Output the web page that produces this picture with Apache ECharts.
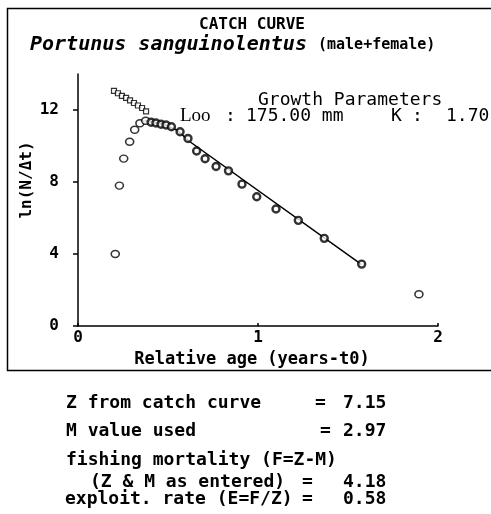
<!DOCTYPE html>
<html>
<head>
<meta charset="utf-8">
<script src="https://cdn.jsdelivr.net/npm/echarts@6/dist/echarts.min.js"></script>
<style>
  html, body { margin: 0; padding: 0; background: #fff; }
  #chart { width: 491px; height: 514px; }
</style>
</head>
<body>
<div id="chart"></div>
<script>
(function() {
    var myChart = echarts.init(document.getElementById('chart'));

    // points left of the peak (not used in the fit)
    var leftPoints = [[0.207, 4.0], [0.23, 7.8], [0.254, 9.3], [0.287, 10.24],
        [0.315, 10.9], [0.344, 11.26], [0.376, 11.4]];
    // expected values for the left points (squares)
    var expectedPoints = [[0.2, 13.06], [0.222, 12.93], [0.244, 12.79], [0.267, 12.67],
        [0.289, 12.54], [0.311, 12.39], [0.333, 12.25], [0.356, 12.11], [0.378, 11.92]];
    // points used in the regression
    var usedPoints = [[0.406, 11.32], [0.433, 11.28], [0.461, 11.21], [0.489, 11.17],
        [0.519, 11.07], [0.567, 10.79], [0.611, 10.42], [0.659, 9.72], [0.706, 9.29],
        [0.767, 8.86], [0.836, 8.62], [0.911, 7.88], [0.993, 7.18], [1.1, 6.5],
        [1.224, 5.87], [1.368, 4.87], [1.576, 3.44]];
    // point right of the fitted range
    var rightPoints = [[1.894, 1.76]];
    // fitted curve as drawn
    var fitLine = [[0.37, 11.42], [0.47, 11.22], [0.55, 10.88], [0.62, 10.25], [1.576, 3.41]];

    var xTicks = [0, 1, 2];
    var yTicks = [0, 4, 8, 12];

    var mono = 'DejaVu Sans Mono';
    var black = '#000';

    // results block
    var results = [
        { label: 'Z from catch curve', lx: 66, eq: 315, value: '7.15', y: 403 },
        { label: 'M value used', lx: 66, eq: 320, value: '2.97', y: 431 },
        { label: 'fishing mortality (F=Z-M)', lx: 66, eq: null, value: '', y: 460 },
        { label: '(Z & M as entered)', lx: 90, eq: 302, value: '4.18', y: 482 },
        { label: 'exploit. rate (E=F/Z)', lx: 65, eq: 302, value: '0.58', y: 499 }
    ];

    var graphics = [{
        type: 'rect',
        shape: { x: 7.5, y: 8.5, width: 520, height: 362 },
        style: { fill: null, stroke: black, lineWidth: 1.5 },
        silent: true
    }, {
        type: 'text', x: 252, y: 25,
        style: { text: 'CATCH CURVE', font: 'bold 16px ' + mono, fill: black, align: 'center', verticalAlign: 'middle' }
    }, {
        type: 'text', x: 30, y: 45,
        style: { text: 'Portunus sanguinolentus', font: 'italic bold 20px ' + mono, fill: black, align: 'left', verticalAlign: 'middle' }
    }, {
        type: 'text', x: 318, y: 45,
        style: { text: '(male+female)', font: 'bold 15px ' + mono, fill: black, align: 'left', verticalAlign: 'middle' }
    }, {
        type: 'text', x: 258, y: 100,
        style: { text: 'Growth Parameters', font: '18px ' + mono, fill: black, align: 'left', verticalAlign: 'middle' }
    }, {
        type: 'text', x: 180, y: 116,
        style: { text: 'Loo', font: '19px "Liberation Serif"', fill: black, align: 'left', verticalAlign: 'middle' }
    }, {
        type: 'text', x: 225, y: 116,
        style: { text: ':', font: '18px ' + mono, fill: black, align: 'left', verticalAlign: 'middle' }
    }, {
        type: 'text', x: 246, y: 116,
        style: { text: '175.00 mm', font: '18px ' + mono, fill: black, align: 'left', verticalAlign: 'middle' }
    }, {
        type: 'text', x: 391, y: 116,
        style: { text: 'K', font: '18px ' + mono, fill: black, align: 'left', verticalAlign: 'middle' }
    }, {
        type: 'text', x: 412, y: 116,
        style: { text: ':', font: '18px ' + mono, fill: black, align: 'left', verticalAlign: 'middle' }
    }, {
        type: 'text', x: 446, y: 116,
        style: { text: '1.70', font: '18px ' + mono, fill: black, align: 'left', verticalAlign: 'middle' }
    }];

    results.forEach(function(r) {
        graphics.push({
            type: 'text', x: r.lx, y: r.y,
            style: { text: r.label, font: 'bold 18px ' + mono, fill: black, verticalAlign: 'middle' }
        });
        if (r.eq !== null) {
            graphics.push({
                type: 'text', x: r.eq, y: r.y,
                style: { text: '=', font: 'bold 18px ' + mono, fill: black, verticalAlign: 'middle' }
            });
            graphics.push({
                type: 'text', x: 343, y: r.y,
                style: { text: r.value, font: 'bold 18px ' + mono, fill: black, verticalAlign: 'middle' }
            });
        }
    });

    var option = {
        backgroundColor: '#fff',
        animation: false,
        textStyle: { fontFamily: mono, color: black },
        grid: { left: 78, right: 53, top: 74, bottom: 188 },
        xAxis: {
            type: 'value',
            min: xTicks[0], max: xTicks[xTicks.length - 1], interval: 1,
            name: 'Relative age (years-t0)',
            nameLocation: 'middle',
            nameGap: 25,
            nameTextStyle: { fontFamily: mono, fontWeight: 'bold', fontSize: 17, color: black, padding: [0, 12, 0, 0] },
            axisLine: { lineStyle: { color: black, width: 1.5 } },
            axisTick: { inside: true, length: 3, lineStyle: { color: black, width: 1.5 } },
            axisLabel: { color: black, fontFamily: mono, fontWeight: 'bold', fontSize: 16, margin: 4 },
            splitLine: { show: false }
        },
        yAxis: {
            type: 'value',
            min: yTicks[0], max: 14, interval: 4,
            offset: 7,
            name: 'ln(N/Δt)',
            nameLocation: 'middle',
            nameGap: 36,
            nameRotate: 90,
            nameMoveOverlap: false,
            nameTextStyle: { fontFamily: mono, fontWeight: 'bold', fontSize: 16, color: black, padding: [0, 0, 0, 40] },
            axisLine: { show: true, lineStyle: { color: black, width: 1.5 } },
            axisTick: { show: true, length: 5, lineStyle: { color: black, width: 1.5 } },
            axisLabel: { color: black, fontFamily: mono, fontWeight: 'bold', fontSize: 16, margin: 12, showMaxLabel: false },
            splitLine: { show: false }
        },
        series: [{
            type: 'line',
            data: fitLine,
            symbol: 'none',
            lineStyle: { color: black, width: 1.5 },
            z: 2
        }, {
            type: 'scatter',
            data: leftPoints.concat(rightPoints),
            symbol: 'circle',
            symbolSize: [8, 7],
            itemStyle: { color: '#fff', borderColor: black, borderWidth: 1.5 },
            z: 3
        }, {
            type: 'scatter',
            data: expectedPoints,
            symbol: 'rect',
            symbolSize: 5,
            itemStyle: { color: '#fff', borderColor: black, borderWidth: 1.2 },
            z: 3
        }, {
            type: 'scatter',
            data: usedPoints,
            symbol: 'circle',
            symbolSize: 7,
            itemStyle: { color: '#fff', borderColor: black, borderWidth: 2.4 },
            z: 4
        }],
        graphic: graphics
    };

    myChart.setOption(option);
})();
</script>
</body>
</html>
